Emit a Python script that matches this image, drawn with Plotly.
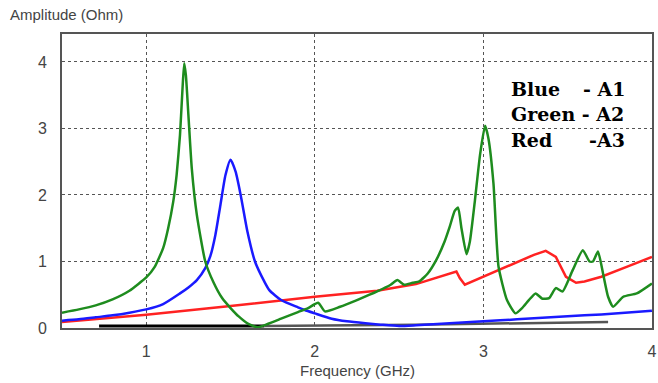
import plotly.graph_objects as go

# Frequency (GHz) / amplitude (Ohm)
green_x = [0.5, 0.6, 0.7, 0.8, 0.9, 1.0, 1.05, 1.1, 1.13, 1.16, 1.18, 1.2, 1.215, 1.225, 1.235,
           1.25, 1.27, 1.3, 1.35, 1.4, 1.45, 1.5, 1.55, 1.6, 1.66, 1.72, 1.8, 1.9, 1.96, 2.02,
           2.06, 2.15, 2.25, 2.37, 2.45, 2.49, 2.53, 2.58, 2.62, 2.67, 2.72, 2.77, 2.80, 2.83,
           2.85, 2.87, 2.90, 2.92, 2.95, 2.98, 3.01, 3.03, 3.06, 3.09, 3.14, 3.19, 3.23, 3.27,
           3.31, 3.35, 3.39, 3.43, 3.47, 3.53, 3.59, 3.63, 3.65, 3.68, 3.71, 3.74, 3.77, 3.83,
           3.91, 4.0]
green_y = [0.23, 0.28, 0.34, 0.43, 0.56, 0.76, 0.92, 1.2, 1.5, 1.9, 2.3, 2.9, 3.6, 3.98, 3.8,
           3.2, 2.4, 1.7, 1.0, 0.68, 0.45, 0.3, 0.17, 0.07, 0.01, 0.06, 0.14, 0.24, 0.3, 0.38,
           0.25, 0.32, 0.42, 0.55, 0.65, 0.72, 0.65, 0.68, 0.70, 0.82, 1.02, 1.3, 1.52, 1.76,
           1.81, 1.5, 1.11, 1.3, 1.92, 2.6, 3.04, 2.85, 2.17, 0.92, 0.42, 0.22, 0.3, 0.42,
           0.52, 0.44, 0.45, 0.60, 0.55, 0.87, 1.17, 1.0, 1.0, 1.15, 0.82, 0.47, 0.32, 0.47,
           0.52, 0.67]

blue_x = [0.5, 0.6, 0.7, 0.8, 0.9, 1.0, 1.1, 1.2, 1.25, 1.3, 1.35, 1.38, 1.41, 1.44, 1.47, 1.5,
          1.53, 1.56, 1.6, 1.645, 1.7, 1.73, 1.8, 1.9, 1.94, 2.0, 2.1, 2.19, 2.3, 2.39, 2.5,
          2.6, 2.8, 3.0, 3.2, 3.4, 3.6, 3.8, 4.0]
blue_y = [0.11, 0.13, 0.16, 0.19, 0.23, 0.28, 0.36, 0.52, 0.61, 0.72, 0.9, 1.08, 1.4, 1.85, 2.3,
          2.53, 2.35, 2.0, 1.45, 1.0, 0.7, 0.57, 0.42, 0.31, 0.27, 0.22, 0.14, 0.1, 0.07, 0.05,
          0.03, 0.04, 0.07, 0.1, 0.13, 0.16, 0.19, 0.22, 0.26]

red_x = [0.5, 1.0, 1.5, 2.0, 2.37, 2.6, 2.84, 2.86, 2.89, 3.0, 3.1, 3.23, 3.3, 3.37, 3.43, 3.49,
         3.55, 3.6, 3.7, 3.85, 4.0]
red_y = [0.09, 0.2, 0.33, 0.47, 0.56, 0.66, 0.85, 0.75, 0.65, 0.77, 0.88, 1.02, 1.1, 1.16, 1.07,
         0.77, 0.68, 0.70, 0.77, 0.92, 1.07]

black_x = [0.72, 1.7]
black_y = [0.03, 0.03]
gray_x = [1.7, 2.6, 3.74]
gray_y = [0.03, 0.05, 0.09]

x_ticks = [1, 2, 3, 4]
y_ticks = [0, 1, 2, 3, 4]

legend_names = ["Blue", "Green - A2", "Red"]
legend_suffix = ["-\u00a0A1", "", "-A3"]
legend_y = [3.59, 3.22, 2.83]

fig = go.Figure()
fig.add_trace(go.Scatter(x=black_x, y=black_y, mode="lines",
                         line=dict(color="#000000", width=3), showlegend=False))
fig.add_trace(go.Scatter(x=gray_x, y=gray_y, mode="lines",
                         line=dict(color="#555555", width=2.5), showlegend=False))
fig.add_trace(go.Scatter(x=red_x, y=red_y, mode="lines",
                         line=dict(color="#ff2222", width=2.5), showlegend=False))
fig.add_trace(go.Scatter(x=blue_x, y=blue_y, mode="lines", line_shape="spline",
                         line=dict(color="#1a1aff", width=2.5, smoothing=0.6), showlegend=False))
fig.add_trace(go.Scatter(x=green_x, y=green_y, mode="lines", line_shape="spline",
                         line=dict(color="#1e8c1e", width=2.5, smoothing=0.5), showlegend=False))

lfont = dict(family="DejaVu Serif", size=19, color="#000000")
for name, suf, yy in zip(legend_names, legend_suffix, legend_y):
    fig.add_annotation(x=3.15, y=yy, xref="x", yref="y", text="<b>" + name + "</b>",
                       showarrow=False, xanchor="left", yanchor="middle", font=lfont)
    if suf:
        fig.add_annotation(x=3.85, y=yy, xref="x", yref="y", text="<b>" + suf + "</b>",
                           showarrow=False, xanchor="right", yanchor="middle", font=lfont)

fig.add_annotation(x=-0.091, y=1.065, xref="paper", yref="paper", text="Amplitude (Ohm)",
                   showarrow=False, xanchor="left", yanchor="middle",
                   font=dict(family="Liberation Sans", size=15, color="#444444"))
fig.add_annotation(x=0.5, y=-0.143, xref="paper", yref="paper", text="Frequency (GHz)",
                   showarrow=False, xanchor="center", yanchor="middle",
                   font=dict(family="Liberation Sans", size=15, color="#444444"))

fig.update_layout(
    width=658, height=383,
    margin=dict(l=62, r=2, t=34, b=55),
    paper_bgcolor="white", plot_bgcolor="white",
    showlegend=False,
)
fig.update_xaxes(range=[0.5, 4.0005], tickvals=x_ticks, ticks="", ticklabelstandoff=8,
                 ticklabeloverflow="allow",
                 showgrid=True, gridcolor="#555555", griddash="dot", gridwidth=1,
                 showline=True, linecolor="#555555", linewidth=2, mirror=True, zeroline=False,
                 tickfont=dict(family="Liberation Sans", size=16, color="#444444"))
fig.update_yaxes(range=[0, 4.42], tickvals=y_ticks, ticks="", ticklabelstandoff=10,
                 showgrid=True, gridcolor="#555555", griddash="dot", gridwidth=1,
                 showline=True, linecolor="#555555", linewidth=2, mirror=True, zeroline=False,
                 tickfont=dict(family="Liberation Sans", size=16, color="#444444"))

fig.write_html("out.html", config={"displayModeBar": False},
               post_script="document.body.style.margin='0px';")
